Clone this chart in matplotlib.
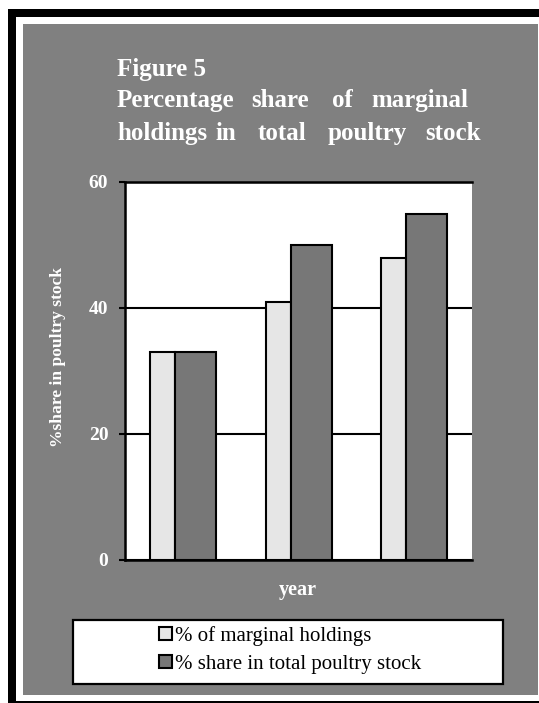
import matplotlib
matplotlib.use('Agg')
import matplotlib.pyplot as plt
from matplotlib.patches import Rectangle
import numpy as np

# data
categories = ['1', '2', '3']
marginal_holdings = [33, 41, 48]
poultry_share = [33, 50, 55]
yticks = [0, 20, 40, 60]

W, H = 539, 703
serif = 'Liberation Serif'


def fx(x):
    return x / W


def fy(y):
    return 1 - y / H


fig = plt.figure(figsize=(W / 100, H / 100), dpi=100)
fig.patch.set_facecolor('white')

# frame: grey panel with black strokes on left, top and bottom
fig.patches.append(Rectangle((fx(23), fy(694.5)), fx(537.5) - fx(23), fy(24) - fy(694.5),
                             transform=fig.transFigure, facecolor='#808080',
                             edgecolor='none', zorder=0))
fig.patches.append(Rectangle((fx(8), fy(701)), fx(16) - fx(8), fy(9) - fy(701),
                             transform=fig.transFigure, facecolor='black',
                             edgecolor='none', zorder=0))
fig.patches.append(Rectangle((fx(8), fy(16.5)), 1 - fx(8), fy(9) - fy(16.5),
                             transform=fig.transFigure, facecolor='black',
                             edgecolor='none', zorder=0))
fig.patches.append(Rectangle((fx(8), 0), 1 - fx(8), fy(701),
                             transform=fig.transFigure, facecolor='black',
                             edgecolor='none', zorder=0))

ax = fig.add_axes([fx(125), fy(560), fx(472) - fx(125), fy(182) - fy(560)])
ax.set_zorder(3)
ax.set_facecolor('white')

x = np.arange(len(categories))
b1 = ax.bar(x + 0.216, marginal_holdings, width=0.216, align='edge',
            color='#e6e6e6', edgecolor='black', linewidth=1.5, zorder=3,
            label='% of marginal holdings')
b2 = ax.bar(x + 0.432, poultry_share, width=0.355, align='edge',
            color='#777777', edgecolor='black', linewidth=1.5, zorder=3,
            label='% share in total poultry stock')

ax.set_xlim(0, 3)
ax.set_ylim(0, 60)
ax.set_xticks([])
ax.set_yticks(yticks)
ax.yaxis.grid(True, color='black', linewidth=1.5)
ax.set_axisbelow(True)
for s in ['left', 'bottom', 'top']:
    ax.spines[s].set_color('black')
    ax.spines[s].set_linewidth(1.8)
ax.spines['right'].set_visible(False)
ax.tick_params(axis='y', direction='out', length=4, width=1.5, pad=8,
               colors='black', labelcolor='white')
for lab in ax.get_yticklabels():
    lab.set_fontfamily(serif)
    lab.set_fontweight('bold')
    lab.set_fontsize(14)

# title, justified by word
tsize = 18
fig.text(fx(117), fy(76), 'Figure 5', color='white', fontsize=tsize,
         fontweight='bold', family=serif, va='baseline')
line2 = [('Percentage', 116.7), ('share', 251.7), ('of', 331.7), ('marginal', 371.7)]
line3 = [('holdings', 117.7), ('in', 215), ('total', 258), ('poultry', 328), ('stock', 425)]
for word, xp in line2:
    fig.text(fx(xp), fy(107), word, color='white', fontsize=tsize,
             fontweight='bold', family=serif, va='baseline')
for word, xp in line3:
    fig.text(fx(xp), fy(140), word, color='white', fontsize=tsize,
             fontweight='bold', family=serif, va='baseline')

fig.text(fx(58), fy(357), '%share in poultry stock', rotation=90, color='white',
         fontsize=12.6, fontweight='bold', family=serif, ha='center', va='center')
fig.text(fx(298), fy(590), 'year', color='white', fontsize=14.5,
         fontweight='bold', family=serif, ha='center', va='center')

# legend box
fig.patches.append(Rectangle((fx(73), fy(684)), fx(503) - fx(73), fy(620) - fy(684),
                             transform=fig.transFigure, facecolor='white',
                             edgecolor='black', linewidth=1.6, zorder=2))
leg = fig.legend(handles=[b1, b2], loc='center',
                 bbox_to_anchor=(fx(290), fy(650)), frameon=False,
                 prop={'family': serif, 'size': 15}, handlelength=0.6,
                 handleheight=0.6, handletextpad=0.15, labelspacing=0.45,
                 borderpad=0)
leg.set_zorder(5)

fig.savefig('out.png', dpi=100, facecolor=fig.get_facecolor())
